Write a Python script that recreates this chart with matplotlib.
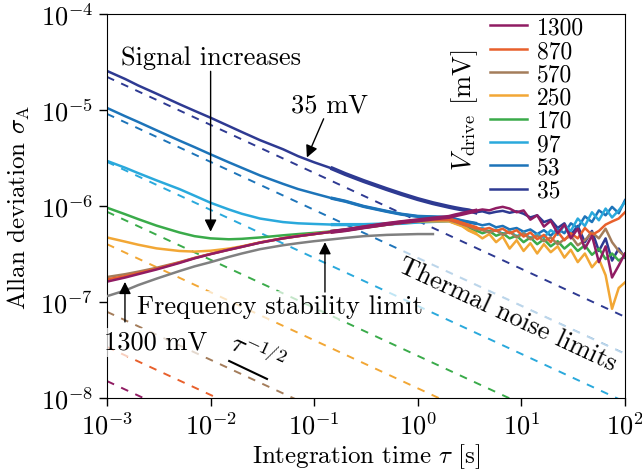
import numpy as np
import matplotlib
matplotlib.use("Agg")
import matplotlib.pyplot as plt

plt.rcParams['font.family'] = 'serif'
plt.rcParams['font.serif'] = ['cmr10', 'DejaVu Serif']
plt.rcParams['mathtext.fontset'] = 'cm'
plt.rcParams['axes.formatter.use_mathtext'] = True
plt.rcParams['axes.unicode_minus'] = False

# drive voltages (mV) and colours
volts = [35, 53, 97, 170, 250, 570, 870, 1300]
colors = ['#2e3a92', '#1d74b9', '#2aa9dc', '#3aab4a', '#f2a735', '#a47d5b', '#e8602c', '#901c63']

# integration times: smooth part and noisy tail (s)
tau_s = [1e-3, 1.5e-3, 2e-3, 3e-3, 5e-3, 7e-3, 1e-2, 1.5e-2, 2e-2, 3e-2, 5e-2, 7e-2,
         0.1, 0.15, 0.2, 0.3, 0.5, 0.7, 1.0, 1.4]
tau_t = [2.0, 2.3, 2.7, 3.1, 3.6, 4.2, 4.9, 5.7, 6.6, 7.7, 9.0, 10.5, 12.2, 14.2, 16.5,
         19.2, 22.4, 26, 30, 35, 41, 48, 56, 65, 75, 87, 100]

# Allan deviation in units of 1e-7
s35 = [255, 210, 180, 148, 115, 98, 83, 68, 59, 48.5, 39, 33, 28.5, 24.5, 21.5, 18.2, 15.0, 13.3, 11.8, 10.7]
t35 = [9.8, 9.5, 9.2, 9.0, 8.6, 8.8, 8.4, 8.7, 8.9, 8.5, 8.8, 8.3, 7.6, 8.0, 6.8, 7.2, 5.9, 6.6, 5.0, 6.2, 4.2, 5.5, 3.4, 4.6, 2.7, 3.6, 2.9]
s53 = [105, 86, 75, 61.5, 48, 41, 34.5, 28.5, 25, 20.8, 17, 15, 13.5, 12.0, 11.2, 9.9, 8.8, 8.2, 7.8, 7.7]
t53 = [7.6, 7.3, 7.0, 6.8, 6.6, 6.3, 6.5, 6.0, 6.2, 5.7, 5.9, 5.4, 5.7, 5.1, 5.6, 4.9, 5.8, 5.2, 6.6, 5.9, 7.8, 6.8, 9.0, 8.0, 9.8, 8.4, 11.5]
s97 = [29.5, 25, 22, 18.5, 15, 12.8, 10.8, 9.2, 8.3, 7.4, 6.8, 6.6, 6.5, 6.4, 6.4, 6.4, 6.5, 6.6, 6.8, 6.9]
t97 = [7.0, 6.7, 6.4, 6.1, 5.7, 5.9, 5.4, 5.7, 5.1, 5.5, 4.8, 5.3, 4.6, 5.1, 4.7, 5.6, 5.0, 6.3, 5.5, 7.4, 6.2, 8.6, 7.1, 9.4, 7.6, 9.0, 11.0]
s170 = [9.6, 8.2, 7.3, 6.25, 5.3, 4.85, 4.6, 4.5, 4.55, 4.7, 4.95, 5.1, 5.25, 5.45, 5.62, 6.0, 6.45, 6.75, 7.0, 7.1]
t170 = [7.1, 6.8, 6.4, 6.0, 5.6, 5.2, 5.5, 4.9, 5.2, 4.6, 4.9, 4.2, 4.7, 4.0, 4.5, 3.8, 4.3, 3.6, 4.1, 3.4, 3.9, 3.1, 3.6, 2.8, 3.2, 2.7, 3.0]
s250 = [4.7, 4.25, 3.95, 3.62, 3.4, 3.35, 3.42, 3.6, 3.8, 4.17, 4.6, 4.85, 5.1, 5.4, 5.6, 6.0, 6.45, 6.75, 7.0, 7.0]
t250 = [7.0, 6.6, 6.2, 5.6, 5.2, 4.6, 5.1, 4.2, 4.8, 3.6, 4.4, 3.4, 4.1, 3.2, 4.0, 3.3, 3.8, 2.9, 3.5, 2.6, 3.2, 2.3, 2.8, 1.9, 0.85, 1.4, 1.6]
s570 = [1.82, 1.95, 2.07, 2.27, 2.6, 2.88, 3.17, 3.5, 3.75, 4.15, 4.6, 4.85, 5.1, 5.4, 5.6, 5.98, 6.45, 6.75, 7.0, 7.2]
t570 = [7.2, 6.9, 6.5, 6.2, 5.8, 5.6, 5.3, 5.6, 5.0, 5.4, 4.7, 5.2, 4.5, 4.9, 4.3, 4.7, 4.0, 4.5, 4.9, 3.9, 4.4, 5.3, 4.6, 5.8, 4.2, 3.4, 3.0]
s870 = [1.72, 1.86, 2.0, 2.22, 2.58, 2.87, 3.17, 3.52, 3.77, 4.17, 4.62, 4.87, 5.12, 5.42, 5.63, 6.02, 6.52, 6.82, 7.1, 7.3]
t870 = [7.3, 7.0, 6.6, 6.3, 6.0, 5.7, 5.9, 5.5, 5.8, 5.2, 5.6, 4.8, 5.3, 4.5, 5.0, 4.2, 5.4, 4.4, 5.2, 4.6, 5.9, 5.0, 5.5, 6.4, 6.9, 7.4, 8.6]
s1300 = [1.63, 1.80, 1.95, 2.18, 2.55, 2.85, 3.15, 3.50, 3.75, 4.15, 4.60, 4.85, 5.10, 5.40, 5.60, 6.00, 6.50, 6.80, 7.10, 7.40]
t1300 = [7.7, 8.0, 8.3, 8.6, 8.9, 9.2, 9.0, 9.5, 9.8, 9.4, 8.6, 9.0, 7.2, 8.0, 6.1, 7.0, 5.2, 6.4, 4.6, 5.8, 3.6, 4.9, 2.6, 3.8, 1.8, 2.4, 3.2]

smooth = [s35, s53, s97, s170, s250, s570, s870, s1300]
tails = [t35, t53, t97, t170, t250, t570, t870, t1300]

# frequency stability limit (grey), units 1e-7
s_freq = [1.15, 1.32, 1.5, 1.75, 2.1, 2.35, 2.6, 2.95, 3.2, 3.55, 3.9, 4.1, 4.3, 4.5, 4.65, 4.85, 5.0, 5.05, 5.1, 5.1]

# thermal noise limits (dashed): value at tau=1e-3 s and at tau=1e2 s
tau_th = [1e-3, 1e2]
th_start = [2.21e-5, 9.1e-6, 2.88e-6, 8.7e-7, 4.0e-7, 7.9e-8, 3.4e-8, 1.5e-8]
th_end = [7.0e-8, 2.88e-8, 9.1e-9, 2.75e-9, 1.26e-9, 2.5e-10, 1.08e-10, 4.7e-11]

fig = plt.figure(figsize=(6.42, 4.77), dpi=100)
ax = fig.add_axes([0.1667, 0.1635, 0.8068, 0.8051])

for c, a, b in zip(colors, th_start, th_end):
    ax.plot(tau_th, [a, b], color=c, lw=1.4, dashes=(4, 4), zorder=1)

tau_all = np.array(tau_s + tau_t)
lines = []
for v, c, s, t in zip(volts, colors, smooth, tails):
    y = np.array(s + t) * 1e-7
    l, = ax.plot(tau_all, y, color=c, lw=1.8, label=str(v), zorder=2)
    lines.append(l)
    # thicker where the measured curve becomes a noisy band
    m = (tau_all >= 0.15) & (tau_all <= 3.6)
    ax.plot(tau_all[m], y[m], color=c, lw=3.0 if v in (35, 1300) else 2.4, zorder=2)

ax.plot(tau_s, np.array(s_freq) * 1e-7, color='#808080', lw=1.8, zorder=3)

ax.set_xscale('log')
ax.set_yscale('log')
ax.set_xlim(1e-3, 1e2)
ax.set_ylim(1e-8, 1e-4)
ax.minorticks_off()
ax.tick_params(which='major', direction='out', length=6, width=1, labelsize=19, pad=4)
ax.set_xlabel(r'Integration time $\tau$ [s]', fontsize=18, labelpad=2)
ax.set_ylabel(r'Allan deviation $\sigma_\mathrm{A}$', fontsize=18, labelpad=6)

arr = dict(arrowstyle='-|>', color='k', lw=1.0, mutation_scale=18, shrinkA=0, shrinkB=0)
wbox = dict(boxstyle='square,pad=0.1', fc='white', ec='none', alpha=0.7)

ax.annotate('Signal increases', xy=(1.0e-2, 5.4e-7), xytext=(1.0e-2, 2.7e-5),
            arrowprops=arr, fontsize=19, ha='center', va='bottom', zorder=5)
ax.annotate('35 mV', xy=(0.085, 3.2e-6), xytext=(0.142, 1.15e-5),
            arrowprops=arr, fontsize=19, ha='center', va='center', zorder=5)
ax.annotate('', xy=(0.127, 4.2e-7), xytext=(0.127, 1.27e-7), arrowprops=arr, zorder=5)
ax.text(0.047, 9.1e-8, 'Frequency stability limit', fontsize=19, ha='center', va='center',
        bbox=wbox, zorder=4)
ax.annotate('', xy=(1.49e-3, 1.62e-7), xytext=(1.49e-3, 6.2e-8), arrowprops=arr, zorder=5)
ax.text(2.97e-3, 3.83e-8, '1300 mV', fontsize=19, ha='center', va='center',
        bbox=wbox, zorder=4)
ax.text(7.3, 7.5e-8, 'Thermal noise limits', fontsize=19, ha='center', va='center',
        rotation=-25, rotation_mode='anchor', bbox=wbox, zorder=4)

# tau^-1/2 guide
ax.plot([0.0151, 0.035], [2.43e-8, 1.58e-8], color='k', lw=1.5, zorder=4)
ax.text(0.028, 3.0e-8, r'$\tau^{-1/2}$', fontsize=19, ha='center', va='center',
        rotation=-25, rotation_mode='anchor', zorder=4)

ax.legend(handles=lines[::-1], loc='upper right', bbox_to_anchor=(0.948, 1.03),
          frameon=False, fontsize=17, handlelength=1.6, handletextpad=0.4,
          labelspacing=0.05, borderaxespad=0.2)
ax.text(0.691, 0.753, r'$V_\mathrm{drive}$ [mV]', transform=ax.transAxes, fontsize=19,
        rotation=90, ha='center', va='center')

fig.savefig('out.png', dpi=100)
